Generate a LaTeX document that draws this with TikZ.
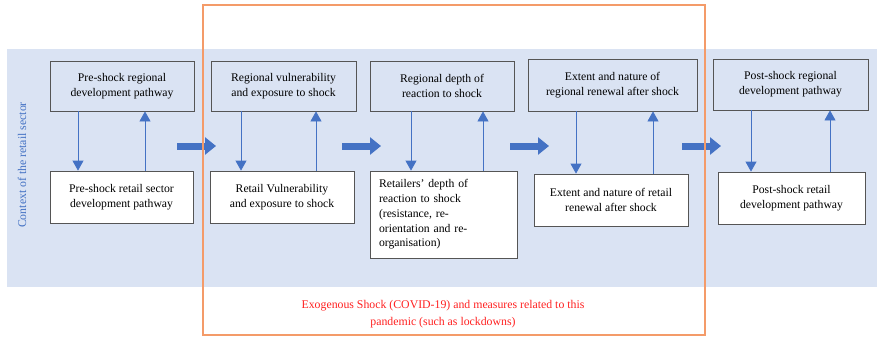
\documentclass[tikz,border=0pt]{standalone}
\usepackage{fontspec}
\setmainfont{Liberation Serif}
\usetikzlibrary{arrows.meta}
\definecolor{bandblue}{RGB}{218,227,243}
\definecolor{arrowblue}{RGB}{68,114,196}
\definecolor{boxline}{RGB}{85,85,85}
\definecolor{frameorange}{RGB}{244,155,105}
\definecolor{shockred}{RGB}{255,32,32}
\tikzset{
  box/.style={draw=boxline, line width=0.8pt, inner sep=2pt, align=center,
    font=\fontsize{11.7}{14.8}\selectfont},
  topbox/.style={box},
  lowbox/.style={box, fill=white},
  link/.style={draw=arrowblue, line width=0.8pt, -{Triangle[width=11pt,length=10pt]}},
  flow/.style={draw=arrowblue, line width=7pt, -{Triangle[width=17pt,length=11pt]}},
  shockframe/.style={draw=frameorange, line width=1.1pt},
}
\begin{document}
\begin{tikzpicture}[x=1pt,y=-1pt]
\useasboundingbox (0,0) rectangle (877,338);
% context band
\fill[bandblue] (7,49) rectangle (877,287);
\node[rotate=90, text=arrowblue, font=\fontsize{11.8}{13}\selectfont] (ctx) at (22,165) {Context of the retail sector};

% regional (top) row
\node[topbox, minimum width=144pt, minimum height=50pt] (t1) at (122,86) {Pre-shock regional\\development pathway};
\node[topbox, minimum width=145pt, minimum height=50pt] (t2) at (283.5,86) {Regional vulnerability\\and exposure to shock};
\node[topbox, minimum width=144pt, minimum height=50pt] (t3) at (442,86) {Regional depth of\\reaction to shock};
\node[topbox, minimum width=169pt, minimum height=52pt] (t4) at (612.5,85) {Extent and nature of\\regional renewal after shock};
\node[topbox, minimum width=155pt, minimum height=51pt] (t5) at (790.5,84.5) {Post-shock regional\\development pathway};

% retail (bottom) row
\node[lowbox, minimum width=143pt, minimum height=52pt] (b1) at (121.5,197) {Pre-shock retail sector\\development pathway};
\node[lowbox, minimum width=144pt, minimum height=52pt] (b2) at (282,197) {Retail Vulnerability\\and exposure to shock};
\node[lowbox, minimum width=147pt, minimum height=87pt, text width=129pt, align=left] (b3) at (443.5,214.5) {Retailers' depth of\\reaction to shock\\(resistance, re-\\orientation and re-\\organisation)};
\node[lowbox, minimum width=154pt, minimum height=52pt] (b4) at (611,200) {Extent and nature of retail\\renewal after shock};
\node[lowbox, minimum width=147pt, minimum height=52pt] (b5) at (791.5,198) {Post-shock retail\\development pathway};

% links between regional and retail levels
\draw[link] ([xshift=-44pt]t1.south) -- ([xshift=-43.5pt]b1.north);
\draw[link] ([xshift=23.5pt]b1.north) -- ([xshift=23pt]t1.south);
\draw[link] ([xshift=-42.5pt]t2.south) -- ([xshift=-41pt]b2.north);
\draw[link] ([xshift=34pt]b2.north) -- ([xshift=32.5pt]t2.south);
\draw[link] ([xshift=-31pt]t3.south) -- ([xshift=-32.5pt]b3.north);
\draw[link] ([xshift=39.5pt]b3.north) -- ([xshift=41pt]t3.south);
\draw[link] ([xshift=-36.5pt]t4.south) -- ([xshift=-35pt]b4.north);
\draw[link] ([xshift=42pt]b4.north) -- ([xshift=40.5pt]t4.south);
\draw[link] ([xshift=-39.5pt]t5.south) -- ([xshift=-40.5pt]b5.north);
\draw[link] ([xshift=38.5pt]b5.north) -- ([xshift=39.5pt]t5.south);

% stage-to-stage flow arrows
\coordinate (f1a) at (177,146); \coordinate (f1b) at (216,146);
\coordinate (f2a) at (342,146); \coordinate (f2b) at (381,146);
\coordinate (f3a) at (510,146); \coordinate (f3b) at (549,146);
\coordinate (f4a) at (682,146); \coordinate (f4b) at (721,146);
\draw[flow] (f1a) -- (f1b);
\draw[flow] (f2a) -- (f2b);
\draw[flow] (f3a) -- (f3b);
\draw[flow] (f4a) -- (f4b);

% exogenous shock frame
\draw[shockframe] (203,5) rectangle (705,335);
\node[text=shockred, align=center, font=\fontsize{11.8}{17}\selectfont] (shock) at (443,314)
  {Exogenous Shock (COVID-19) and measures related to this\\pandemic (such as lockdowns)};
\end{tikzpicture}
\end{document}
